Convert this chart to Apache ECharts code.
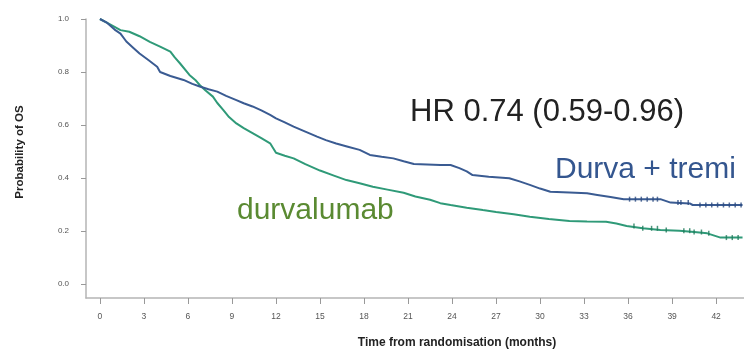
<!DOCTYPE html>
<html>
<head>
<meta charset="utf-8">
<script src="https://cdn.jsdelivr.net/npm/echarts@6/dist/echarts.min.js"></script>
<style>html,body{margin:0;padding:0;background:#fff}#c{width:744px;height:351px}</style>
</head>
<body>
<div id="c"></div>
<script>
// Kaplan-Meier curves: [month, survival probability]
const durvaTremi = [[0,1.0],[0.5,0.985],[1,0.96],[1.4,0.945],[1.8,0.915],[2.3,0.89],[2.7,0.87],[3.3,0.845],[3.9,0.82],[4.1,0.80],[4.8,0.785],[5.7,0.77],[6.3,0.755],[6.8,0.745],[7.4,0.735],[8.0,0.726],[8.6,0.71],[9.3,0.694],[9.8,0.682],[10.4,0.67],[11.0,0.655],[11.6,0.638],[12.0,0.625],[12.6,0.61],[13.2,0.594],[14.0,0.575],[14.8,0.556],[15.4,0.543],[16.1,0.53],[16.9,0.518],[17.7,0.506],[18.4,0.487],[19.2,0.48],[20.0,0.474],[20.7,0.463],[21.4,0.453],[22.3,0.451],[23.2,0.449],[23.9,0.449],[24.5,0.437],[25.0,0.425],[25.4,0.411],[26.5,0.405],[27.9,0.399],[28.6,0.387],[29.3,0.374],[30.0,0.36],[30.7,0.348],[32.0,0.345],[33.2,0.342],[33.9,0.336],[34.8,0.328],[35.7,0.32],[38.2,0.32],[38.9,0.307],[40.2,0.304],[40.4,0.298],[43.8,0.298]];
const durvalumab = [[0,1.0],[0.5,0.985],[1.0,0.97],[1.4,0.958],[2.0,0.952],[2.7,0.935],[3.4,0.914],[4.1,0.896],[4.8,0.877],[5.1,0.855],[5.45,0.833],[6.1,0.789],[6.5,0.77],[6.8,0.751],[7.2,0.73],[7.7,0.707],[8.0,0.683],[8.4,0.657],[8.8,0.63],[9.3,0.606],[9.8,0.588],[10.4,0.569],[11.0,0.55],[11.6,0.531],[12.0,0.495],[12.6,0.484],[13.2,0.474],[14.0,0.452],[15.0,0.428],[15.9,0.41],[16.8,0.392],[17.7,0.38],[18.6,0.367],[19.6,0.356],[20.7,0.344],[21.5,0.33],[22.5,0.318],[23.2,0.305],[23.9,0.298],[25.0,0.288],[26.1,0.279],[27.0,0.272],[28.2,0.263],[29.3,0.254],[30.6,0.245],[32.0,0.238],[33.2,0.236],[34.5,0.235],[35.2,0.228],[35.9,0.219],[37.0,0.21],[38.2,0.204],[39.5,0.201],[40.5,0.196],[41.4,0.191],[42.3,0.175],[43.8,0.175]];
// censoring times (months)
const censorDurvaTremi = [36.1,36.5,36.9,37.3,37.7,38.0,39.4,39.6,40.1,40.9,41.3,41.7,42.1,42.5,42.9,43.3,43.7];
const censorDurvalumab = [36.4,37.0,37.6,38.0,38.6,39.8,40.2,40.5,41.0,41.5,42.7,43.1,43.5];
// tick labels
const xTicks = [0,3,6,9,12,15,18,21,24,27,30,33,36,39,42];
const yTicks = [0,0.2,0.4,0.6,0.8,1.0];

function stepAt(curve, t){ let v = curve[0][1]; for (const p of curve){ if (p[0] <= t) v = p[1]; } return v; }
const cenA = censorDurvaTremi.map(t => [t, stepAt(durvaTremi, t)]);
const cenB = censorDurvalumab.map(t => [t, stepAt(durvalumab, t)]);

const blue = '#3a5b92', green = '#2f9a78';
const chart = echarts.init(document.getElementById('c'), null, {renderer:'canvas'});
chart.setOption({
  animation:false,
  grid:{left:86, right:0, top:19, bottom:53},
  xAxis:{type:'value', min:-0.95, max:43.9,
    axisLine:{show:true, onZero:false, lineStyle:{color:'#b5b5b5', width:1.5}},
    axisTick:{show:true, length:6, customValues:xTicks, lineStyle:{color:'#999'}},
    axisLabel:{customValues:xTicks, margin:14, fontSize:8.5, color:'#555', fontFamily:'Liberation Sans'},
    splitLine:{show:false}},
  yAxis:{type:'value', min:-0.053, max:1.0,
    axisLine:{show:true, onZero:false, lineStyle:{color:'#b5b5b5', width:1.5}},
    axisTick:{show:true, length:5, customValues:yTicks, lineStyle:{color:'#999'}},
    axisLabel:{customValues:yTicks, margin:17, fontSize:8, color:'#555', fontFamily:'Liberation Sans', formatter:v=>v.toFixed(1)},
    splitLine:{show:false}},
  series:[
    {type:'line', data:durvaTremi, showSymbol:false, lineStyle:{color:blue, width:2}, z:3},
    {type:'line', data:durvalumab, showSymbol:false, lineStyle:{color:green, width:2}, z:2},
    {type:'scatter', data:cenA, symbol:'rect', symbolSize:[1.5,5], itemStyle:{color:'#2a4a80'}, z:4},
    {type:'scatter', data:cenB, symbol:'rect', symbolSize:[1.5,5], itemStyle:{color:'#1f7a5a'}, z:4}
  ],
  graphic:[
    {type:'text', left:410, top:97, style:{text:'HR 0.74 (0.59-0.96)', font:'31px "Liberation Sans"', fill:'#222'}},
    {type:'text', left:555, top:155, style:{text:'Durva + tremi', font:'30px "Liberation Sans"', fill:'#34568f'}},
    {type:'text', left:237, top:196, style:{text:'durvalumab', font:'30px "Liberation Sans"', fill:'#5a8a32'}},
    {type:'text', x:457, y:343, style:{text:'Time from randomisation (months)', font:'bold 12px "Liberation Sans"', fill:'#222', align:'center', verticalAlign:'middle'}},
    {type:'text', x:20, y:152, rotation:Math.PI/2, style:{text:'Probability of OS', font:'bold 11.5px "Liberation Sans"', fill:'#222', align:'center', verticalAlign:'middle'}}
  ]
});
</script>
</body>
</html>
